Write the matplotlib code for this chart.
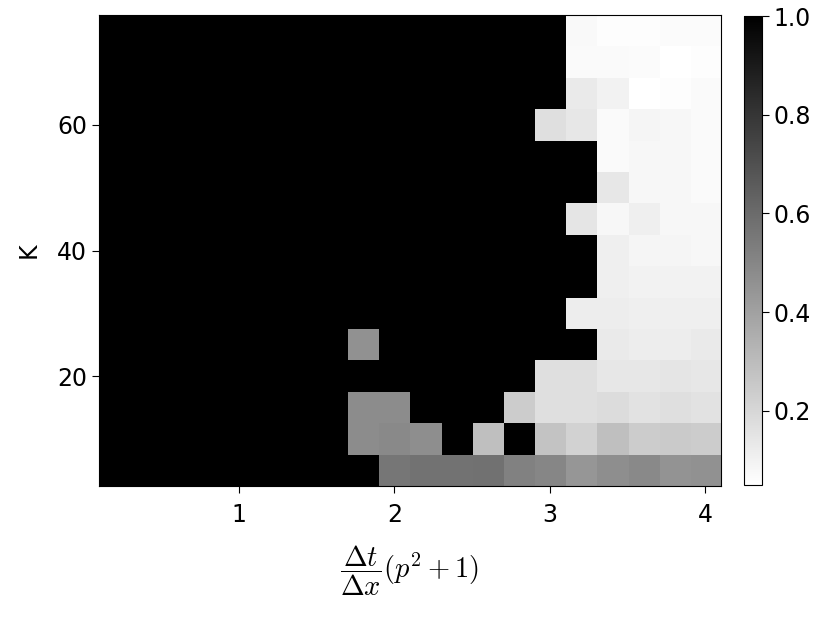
import numpy as np
import matplotlib
matplotlib.use("Agg")
import matplotlib.pyplot as plt

plt.rcParams['mathtext.fontset'] = 'cm'

# x centers: 0.2 .. 4.0 ; K values: 5 .. 75
x_vals = [0.2, 0.4, 0.6, 0.8, 1.0, 1.2, 1.4, 1.6, 1.8, 2.0,
          2.2, 2.4, 2.6, 2.8, 3.0, 3.2, 3.4, 3.6, 3.8, 4.0]
K_vals = [5, 10, 15, 20, 25, 30, 35, 40, 45, 50, 55, 60, 65, 70, 75]

B = 1.0
row_K5  = [B]*9 + [0.56, 0.57, 0.57, 0.58, 0.52, 0.50, 0.44, 0.47, 0.49, 0.45, 0.46]
row_K10 = [B]*8 + [0.48, 0.49, 0.47, B, 0.29, B, 0.27, 0.22, 0.29, 0.24, 0.25, 0.24]
row_K15 = [B]*8 + [0.48, 0.48, B, B, B, 0.24, 0.17, 0.17, 0.18, 0.16, 0.17, 0.16]
row_K20 = [B]*14 + [0.17, 0.17, 0.14, 0.14, 0.15, 0.14]
row_K25 = [B]*8 + [0.46] + [B]*7 + [0.13, 0.12, 0.12, 0.13]
row_K30 = [B]*15 + [0.12, 0.12, 0.11, 0.11, 0.11]
row_K35 = [B]*16 + [0.11, 0.10, 0.10, 0.10]
row_K40 = [B]*16 + [0.11, 0.09, 0.09, 0.08]
row_K45 = [B]*15 + [0.15, 0.08, 0.11, 0.08, 0.08]
row_K50 = [B]*16 + [0.14, 0.08, 0.08, 0.07]
row_K55 = [B]*16 + [0.07, 0.08, 0.08, 0.07]
row_K60 = [B]*14 + [0.17, 0.14, 0.07, 0.09, 0.08, 0.07]
row_K65 = [B]*15 + [0.13, 0.10, 0.05, 0.06, 0.07]
row_K70 = [B]*15 + [0.07, 0.07, 0.065, 0.05, 0.06]
row_K75 = [B]*15 + [0.075, 0.06, 0.06, 0.065, 0.065]

Z = np.array([row_K5, row_K10, row_K15, row_K20, row_K25, row_K30, row_K35,
              row_K40, row_K45, row_K50, row_K55, row_K60, row_K65, row_K70,
              row_K75])

fig = plt.figure(figsize=(8.3, 6.23), dpi=100)
ax = fig.add_axes([0.1193, 0.2199, 0.7494, 0.7560])
cax = fig.add_axes([0.8964, 0.2215, 0.0217, 0.7528])

dx = x_vals[1] - x_vals[0]
dk = K_vals[1] - K_vals[0]
extent = [x_vals[0] - dx/2, x_vals[-1] + dx/2, K_vals[0] - dk/2, K_vals[-1] + dk/2]
im = ax.imshow(Z, origin='lower', extent=extent, aspect='auto',
               cmap='gray_r', interpolation='nearest')

ax.set_xticks([1, 2, 3, 4])
ax.set_yticks([20, 40, 60])
ax.tick_params(labelsize=17, length=5, width=0.8)
ax.tick_params(axis='x', pad=7)
ax.set_xlabel(r'$\dfrac{\Delta t}{\Delta x}(p^2+1)$', fontsize=20.5, labelpad=12)
ax.set_ylabel('K', fontsize=17, labelpad=12)

cb = fig.colorbar(im, cax=cax)
cb.set_ticks([0.2, 0.4, 0.6, 0.8, 1.0])
cb.ax.tick_params(labelsize=17, length=5, width=0.8)

fig.savefig('out.png', dpi=100)
